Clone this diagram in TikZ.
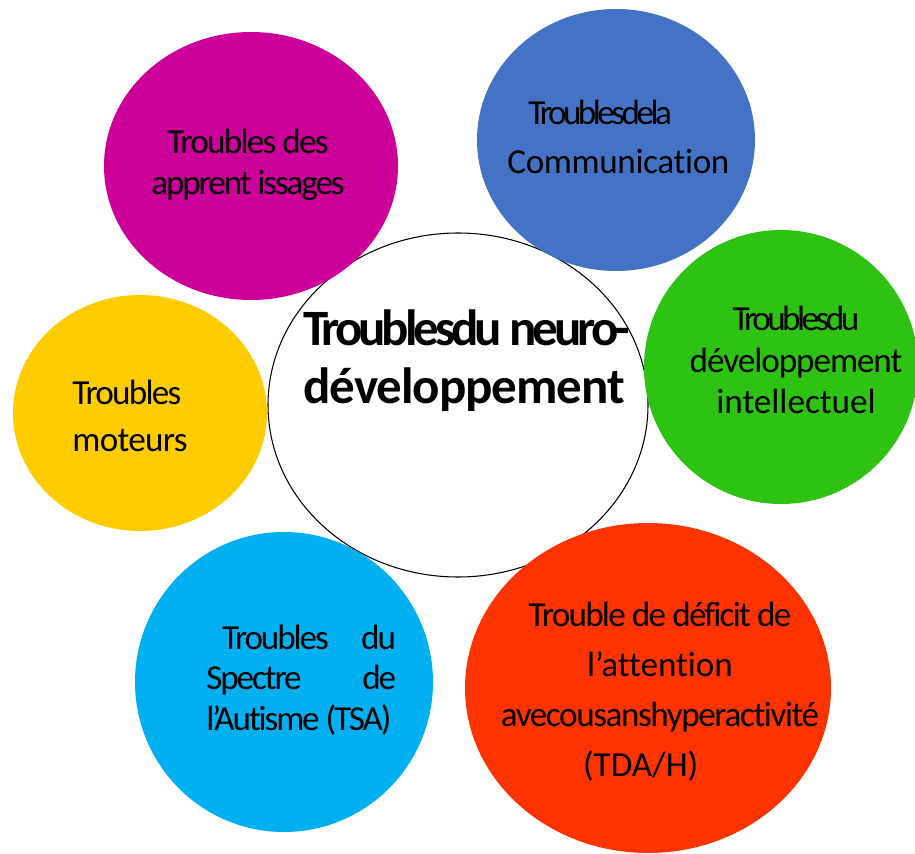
\documentclass[tikz,border=0pt]{standalone}
\usepackage{fontspec}
\setmainfont{Carlito}[Ligatures=NoCommon]
\usetikzlibrary{calc}

\definecolor{violet}{HTML}{CC0099}
\definecolor{bleu}{HTML}{4472C4}
\definecolor{vert}{HTML}{2EC212}
\definecolor{jaune}{HTML}{FFCC00}
\definecolor{ciel}{HTML}{00B0F0}
\definecolor{rouge}{HTML}{FF3300}

% 紧缩字距
\newcommand{\serre}[2]{{\addfontfeature{LetterSpace=#1}#2}}

\begin{document}
\begin{tikzpicture}[x=0.02cm,y=-0.02cm,
    bulle/.style={font=\fontsize{20}{23}\selectfont,inner sep=0pt},
    titre/.style={font=\fontsize{29}{33}\selectfont\bfseries,inner sep=0pt}]

    % 画布范围
    \useasboundingbox (0,0) rectangle (915,854);

    % 定义椭圆中心
    \coordinate (N) at (458,405);
    \coordinate (A) at (251,166);
    \coordinate (C) at (616,140);
    \coordinate (I) at (781,367);
    \coordinate (M) at (140,413);
    \coordinate (T) at (284,682);
    \coordinate (H) at (648,688);

    % 中心椭圆
    \draw[line width=0.6pt,fill=white] (N) ellipse (190 and 172);

    % 周围彩色椭圆
    \fill[violet] (A) ellipse (147 and 134);
    \fill[bleu] (C) ellipse (139 and 131);
    \fill[vert] (I) ellipse (137 and 137);
    \fill[jaune] (M) ellipse (127 and 118);
    \fill[ciel] (T) ellipse (149 and 150);
    \fill[rouge] (H) ellipse (183 and 165);

    % 中心标题
    \node[titre,align=left,anchor=west] (neuro) at (303,361)
        {\serre{-8}{Troublesdu neuro-}\\ \serre{-2}{développement}};

    % 各类障碍
    \node[bulle,align=center] (apprent) at (248,165)
        {\serre{-5}{Troubles des}\\ \serre{-6}{apprent issages}};
    \node[bulle,align=left,anchor=west,font=\fontsize{20}{27.8}\selectfont] (comm) at (507,137)
        {\hspace*{12pt}\serre{-10}{Troublesdela}\\ \serre{-1}{Communication}};
    \node[bulle,align=center,font=\fontsize{20}{23.6}\selectfont] (intel) at (796,360)
        {\serre{-10}{Troublesdu}\\ \serre{-3}{développement}\\ intellectuel};
    \node[bulle,align=left,anchor=west,font=\fontsize{20}{26.6}\selectfont] (moteur) at (72,416)
        {\serre{-5}{Troubles}\\ \serre{-2}{moteurs}};
    \node[bulle,text width=108pt,align=justify,anchor=west] (tsa) at (206,680)
        {\addfontfeature{LetterSpace=-6}\hspace*{9pt}Troubles du\linebreak
         Spectre de\linebreak l’Autisme (TSA)};
    \node[bulle,align=center,font=\fontsize{20}{28.5}\selectfont] (tdah) at (660,692)
        {\serre{-5}{Trouble de déficit de}\\
         l’attention\\
         \serre{-4}{avecousanshyperactivité}\\
         (TDA/H)\hspace*{22pt}\mbox{}};

\end{tikzpicture}
\end{document}
